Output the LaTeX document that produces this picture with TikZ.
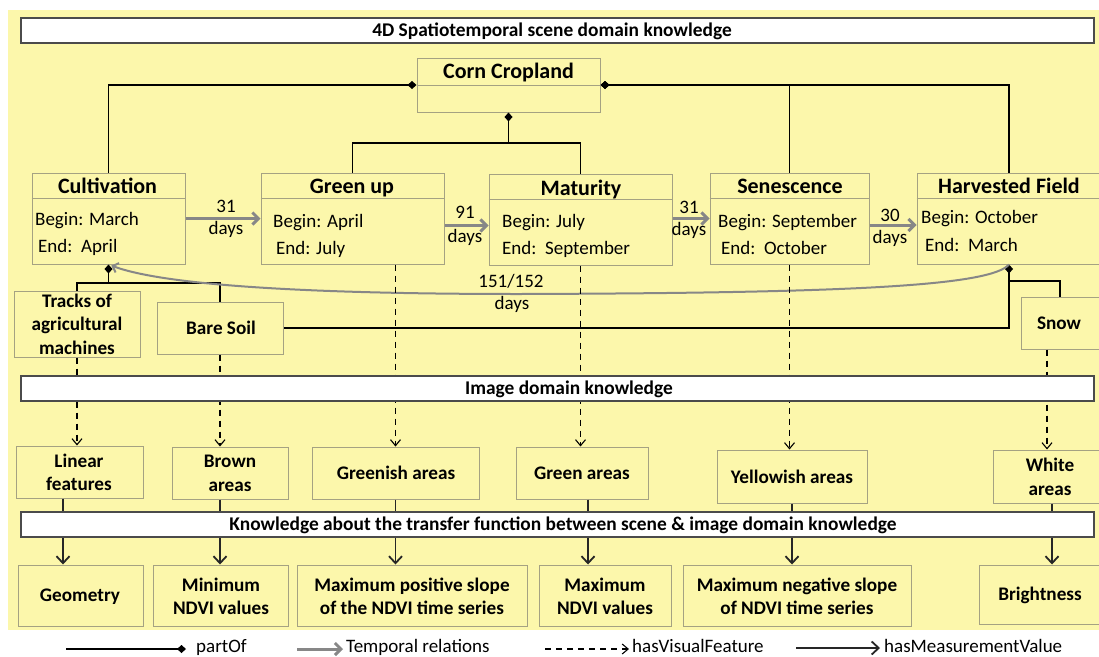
\documentclass[tikz,border=0pt]{standalone}
\usepackage{fontspec}
\setmainfont{Carlito}
\usetikzlibrary{arrows.meta,calc}
\definecolor{bgyellow}{RGB}{252,247,171}
\definecolor{boxgray}{RGB}{165,162,130}
\definecolor{bargray}{RGB}{75,75,75}
\definecolor{arrgray}{RGB}{135,135,135}
\newcommand\ttlfnt{\fontsize{22}{24}\selectfont\bfseries}
\newcommand\bodyfnt{\fontsize{19}{22}\selectfont}
\newcommand\smbfnt{\fontsize{19.2}{23.5}\selectfont\bfseries}
\newcommand\barfnt{\fontsize{19.4}{22}\selectfont\bfseries}
\tikzset{
  box/.style={draw=boxgray, fill=bgyellow, line width=1pt, inner sep=0pt},
  boxline/.style={draw=boxgray, line width=1pt},
  bar/.style={draw=bargray, fill=white, line width=1.6pt, inner sep=0pt, minimum width=1073pt, minimum height=25pt},
  ttl/.style={font=\ttlfnt, inner sep=0pt, anchor=base},
  bodytxt/.style={font=\bodyfnt, inner sep=0pt, anchor=base west},
  daytxt/.style={font=\bodyfnt, inner sep=0pt, anchor=base},
  smb/.style={font=\smbfnt, inner sep=0pt, align=center},
  bartxt/.style={font=\barfnt, inner sep=0pt},
  partof/.style={draw=black, line width=1.4pt},
  dia/.style={{Diamond[length=9pt,width=8pt]}-},
  tempo/.style={draw=arrgray, line width=3pt, -{Straight Barb[length=6pt,width=12pt]}},
  curvearr/.style={draw=arrgray, line width=2pt, -{Straight Barb[length=5pt,width=10pt]}},
  visual/.style={draw=black, line width=1.1pt, dash pattern=on 6pt off 5pt, -{Straight Barb[length=6pt,width=10pt,line width=1.1pt]}},
  plainln/.style={draw=black!85, line width=1.8pt},
  measure/.style={draw=black!85, line width=1.8pt, -{Straight Barb[length=7pt,width=13pt]}},
}
\begin{document}
\begin{tikzpicture}[x=1pt,y=-1pt]
\useasboundingbox (0,0) rectangle (1099,656);
\fill[bgyellow] (8,10) rectangle (1099,630);

% ---------- scene boxes ----------
\node[box, minimum width=183pt, minimum height=54pt] (corn) at (508.5,85) {};
\draw[boxline] (corn.west) -- (corn.east);
\node[ttl] (cornT) at (508.5,78) {Corn Cropland};

\node[box, minimum width=153pt, minimum height=91pt] (cult) at (108.5,218.5) {};
\node[box, minimum width=183pt, minimum height=91pt] (green) at (352.5,218.5) {};
\node[box, minimum width=183pt, minimum height=91pt] (mat) at (580.5,219.5) {};
\node[box, minimum width=159pt, minimum height=91pt] (sen) at (789.5,218.5) {};
\node[box, minimum width=184pt, minimum height=91pt] (harv) at (1009,218.5) {};
\foreach \n in {cult,green,mat,sen,harv}{
  \draw[boxline] ([yshift=-26pt]\n.north west) -- ([yshift=-26pt]\n.north east);
}
\node[ttl] (cultT) at (107.5,193) {Cultivation};
\node[ttl] (greenT) at (352,193) {Green up};
\node[ttl] (matT) at (581,195) {Maturity};
\node[ttl] (senT) at (790,193) {Senescence};
\node[ttl] (harvT) at (1009,193) {Harvested Field};

\node[bodytxt] (cultB) at (35,225) {Begin: March};
\node[bodytxt] (cultE) at (38,252) {End:\ \ April};
\node[bodytxt] (greenB) at (273,227) {Begin: April};
\node[bodytxt] (greenE) at (276,254) {End: July};
\node[bodytxt] (matB) at (502,227) {Begin: July};
\node[bodytxt] (matE) at (502,254) {End:\ \ September};
\node[bodytxt] (senB) at (718,227) {Begin: September};
\node[bodytxt] (senE) at (721,254) {End:\ \ October};
\node[bodytxt] (harvB) at (921,223) {Begin: October};
\node[bodytxt] (harvE) at (925,251) {End:\ \ March};

% partOf from Corn Cropland
\draw[partof,dia] (corn.west) -| (cult.north);
\draw[partof,dia] (corn.east) -| (harv.north);
\draw[partof,dia] (corn.east) -| (sen.north);
\coordinate (cornJ) at (508.5,143);
\draw[partof,dia] (corn.south) -- (cornJ) -| (green.north);
\draw[partof] (cornJ) -| (mat.north);

% temporal relations
\draw[tempo] (cult.east) -- (green.west);
\node[daytxt] (d1a) at (226,212) {31};
\node[daytxt] (d1b) at (226,234) {days};
\draw[tempo] ([yshift=-7pt]green.east) -- ([yshift=-6pt]mat.west);
\node[daytxt] (d2a) at (465,218) {91};
\node[daytxt] (d2b) at (465,242) {days};
\draw[tempo] ([yshift=1pt]mat.east) -- (sen.west);
\node[daytxt] (d3a) at (689,213) {31};
\node[daytxt] (d3b) at (689,235) {days};
\draw[tempo] ([yshift=-6.5pt]sen.east) -- ([yshift=-6.5pt]harv.west);
\node[daytxt] (d4a) at (890,221) {30};
\node[daytxt] (d4b) at (890,243) {days};

% sub-parts
\node[box, minimum width=126pt, minimum height=66pt] (tracks) at (77,324) {};
\node[smb] (tracksT) at (77,324) {Tracks of\\agricultural\\machines};
\node[box, minimum width=126pt, minimum height=52pt] (bare) at (220,328) {};
\node[smb] (bareT) at (221,328) {Bare Soil};
\node[box, minimum width=78pt, minimum height=52pt] (snow) at (1060,323) {};
\node[smb] (snowT) at (1059,323) {Snow};

\coordinate (cultJ) at (108.5,283);
\draw[partof,dia] (cult.south) -- (cultJ) -| (tracks.north);
\draw[partof] (cultJ) -| (bare.north);
\draw[partof,dia] (harv.south) |- (bare.east);
\coordinate (harvJ) at (1009,281);
\draw[partof] (harvJ) -| (snow.north);

% curved temporal relation
\draw[curvearr, shorten >=3pt] (harv.south) .. controls (990,286) and (850,293) .. (520,294)
   .. controls (250,294) and (150,280) .. (cult.south);
\node[daytxt] (d5a) at (511,287) {151/152};
\node[daytxt] (d5b) at (512,309) {days};

% ---------- image boxes ----------
\node[box, minimum width=127pt, minimum height=52pt] (lin) at (79.5,472) {};
\node[smb] (linT) at (79,472.5) {Linear\\features};
\node[box, minimum width=116pt, minimum height=52pt] (brown) at (230,473) {};
\node[smb] (brownT) at (230,473.5) {Brown\\areas};
\node[box, minimum width=167pt, minimum height=52pt] (greenish) at (395.5,473) {};
\node[smb] (greenishT) at (396,473) {Greenish areas};
\node[box, minimum width=132pt, minimum height=52pt] (greenA) at (582,473) {};
\node[smb] (greenAT) at (582,473) {Green areas};
\node[box, minimum width=150pt, minimum height=53pt] (yellowish) at (792,476.5) {};
\node[smb] (yellowishT) at (792,477) {Yellowish areas};
\node[box, minimum width=108pt, minimum height=53pt] (white) at (1047,476.5) {};
\node[smb] (whiteT) at (1050,477) {White\\areas};

% hasVisualFeature
\draw[visual] (tracks.south) -- (tracks.south |- lin.north);
\draw[visual] (bare.south) -- (bare.south |- brown.north);
\draw[visual] (green.south -| greenish.north) -- (greenish.north);
\draw[visual] (mat.south) -- (mat.south |- greenA.north);
\draw[visual] (sen.south) -- (sen.south |- yellowish.north);
\draw[visual] (snow.south -| white.north) -- (white.north);

% ---------- bars ----------
\node[bar] (hdr) at (557.5,30.5) {};
\node[bartxt] (hdrT) at (552,31) {4D Spatiotemporal scene domain knowledge};
\node[bar] (ibar) at (557.5,388.5) {};
\node[bartxt] (ibarT) at (569,389) {Image domain knowledge};
\node[bar] (tbar) at (557.5,524.5) {};
\node[bartxt] (tbarT) at (563,525) {Knowledge about the transfer function between scene \& image domain knowledge};

% ---------- measurement boxes ----------
\node[box, minimum width=125pt, minimum height=61pt] (geo) at (80.5,595.5) {};
\node[smb] (geoT) at (80,597) {Geometry};
\node[box, minimum width=135pt, minimum height=61pt] (minN) at (220.5,595.5) {};
\node[smb] (minNT) at (221,596.5) {Minimum\\NDVI values};
\node[box, minimum width=230pt, minimum height=61pt] (maxPos) at (412,595.5) {};
\node[smb] (maxPosT) at (412,596.5) {Maximum positive slope\\of the NDVI time series};
\node[box, minimum width=132pt, minimum height=61pt] (maxN) at (605,595.5) {};
\node[smb] (maxNT) at (605,596.5) {Maximum\\NDVI values};
\node[box, minimum width=228pt, minimum height=61pt] (maxNeg) at (797,595.5) {};
\node[smb] (maxNegT) at (797,596.5) {Maximum negative slope\\of NDVI time series};
\node[box, minimum width=122pt, minimum height=59pt] (bright) at (1040,594.5) {};
\node[smb] (brightT) at (1040,595) {Brightness};

% box -> transfer bar, transfer bar -> measurement
\draw[plainln] ([xshift=-16.5pt]lin.south) -- ([xshift=-16.5pt]lin.south |- tbar.north);
\draw[measure] ([xshift=-16.5pt]lin.south |- tbar.south) -- ([xshift=-16.5pt]lin.south |- geo.north);
\draw[plainln] ([xshift=-10pt]brown.south) -- ([xshift=-10pt]brown.south |- tbar.north);
\draw[measure] ([xshift=-10pt]brown.south |- tbar.south) -- ([xshift=-10pt]brown.south |- minN.north);
\draw[plainln] (greenish.south) -- (greenish.south |- tbar.north);
\draw[measure] (greenish.south |- tbar.south) -- (greenish.south |- maxPos.north);
\draw[plainln] ([xshift=6pt]greenA.south) -- ([xshift=6pt]greenA.south |- tbar.north);
\draw[measure] ([xshift=6pt]greenA.south |- tbar.south) -- ([xshift=6pt]greenA.south |- maxN.north);
\draw[plainln] (yellowish.south) -- (yellowish.south |- tbar.north);
\draw[measure] (yellowish.south |- tbar.south) -- (yellowish.south |- maxNeg.north);
\draw[plainln] ([xshift=5pt]white.south) -- ([xshift=5pt]white.south |- tbar.north);
\draw[measure] ([xshift=5pt]white.south |- tbar.south) -- ([xshift=5pt]white.south |- bright.north);

% ---------- legend ----------
\coordinate (lgA1) at (66,649);
\coordinate (lgA2) at (186,649);
\draw[partof,-{Diamond[length=9pt,width=8pt]}] (lgA1) -- (lgA2);
\node[bodytxt] (lgAt) at (196,652) {partOf};
\coordinate (lgB1) at (297,649);
\coordinate (lgB2) at (343,649);
\draw[tempo] (lgB1) -- (lgB2);
\node[bodytxt] (lgBt) at (346,652) {Temporal relations};
\coordinate (lgC1) at (545,649);
\coordinate (lgC2) at (629,649);
\draw[visual] (lgC1) -- (lgC2);
\node[bodytxt] (lgCt) at (632,652) {hasVisualFeature};
\coordinate (lgD1) at (796,648);
\coordinate (lgD2) at (880,648);
\draw[measure] (lgD1) -- (lgD2);
\node[bodytxt] (lgDt) at (884,652) {hasMeasurementValue};
\end{tikzpicture}
\end{document}
